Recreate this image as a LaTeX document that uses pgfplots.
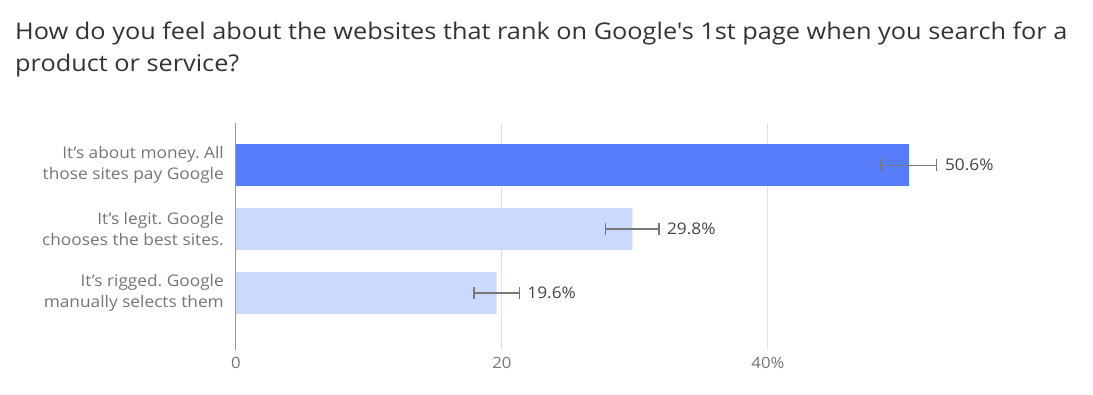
\documentclass[border=0pt]{standalone}
\usepackage{fontspec}
\setmainfont[FakeStretch=1.08]{Open Sans}
\newfontfamily\titlefont[FakeStretch=1.1]{Open Sans}
\usepackage{pgfplots}
\usepackage{pgfplotstable}
\pgfplotsset{compat=1.18}
\definecolor{darkbar}{RGB}{88,125,250}
\definecolor{lightbar}{RGB}{202,217,252}
\definecolor{txtgray}{RGB}{117,117,117}
\definecolor{titlegray}{RGB}{51,51,51}
\definecolor{valgray}{RGB}{68,68,68}
\definecolor{errgray}{RGB}{120,120,120}
\definecolor{gridgray}{RGB}{224,224,224}
\pgfplotstableread{
y val err
0 50.6 2.1
}\first
\pgfplotstableread{
y val err
1 29.8 2.0
2 19.6 1.7
}\rest
\pgfplotstableread{
y val err
0 50.6 2.1
1 29.8 2.0
2 19.6 1.7
}\all
\begin{document}
\frenchspacing
\begin{tikzpicture}
\path[use as bounding box] (0,0) rectangle (1093pt,394pt);
\node[anchor=base west, align=left, font=\titlefont\fontsize{23pt}{32pt}\selectfont, text=titlegray, inner sep=0pt] at (15pt,394pt-72pt)
{How do you feel about the websites that rank on Google's 1st page when you search for a\\product or service?};
\begin{axis}[
  at={(236pt,44pt)}, anchor=south west,
  scale only axis, width=758pt, height=227pt,
  xmin=0, xmax=57,
  ymin=-0.66, ymax=2.89, y dir=reverse,
  axis line style={draw=none},
  major tick length=0pt,
  xtick={20,40}, xticklabels={20,40\%},
  extra x ticks={0}, extra x tick labels={0},
  extra x tick style={grid=major, major grid style={draw=black!40, line width=1pt}},
  xmajorgrids, major grid style={draw=gridgray, line width=1pt},
  ytick={0,1,2},
  yticklabels={{It's about money. All\\those sites pay Google},{It's legit. Google\\chooses the best sites.},{It's rigged. Google\\manually selects them}},
  yticklabel style={align=right, font=\fontsize{16pt}{21pt}\selectfont, text=txtgray, inner sep=0pt, xshift=-12pt},
  xticklabel style={font=\fontsize{15.5pt}{18pt}\selectfont, text=txtgray, inner sep=0pt, yshift=-7pt},
  clip=false,
]
\addplot[xbar, bar width=42pt, bar shift=0pt, fill=darkbar, draw=none]
  table[x=val, y=y] {\first};
\addplot[xbar, bar width=42pt, bar shift=0pt, fill=lightbar, draw=none]
  table[x=val, y=y] {\rest};
\addplot[draw=none, mark=none,
  error bars/.cd, x dir=both, x explicit,
  error bar style={draw=errgray, line width=1.3pt},
  error mark options={draw=errgray, mark size=6pt, line width=1.3pt, rotate=90}]
  table[x=val, y=y, x error=err] {\all};
\addplot[draw=none, mark=none,
  nodes near coords={\pgfmathprintnumber[fixed,precision=1,fixed zerofill,assume math mode=true]{\pgfplotspointmeta}\%},
  point meta=\thisrow{val},
  every node near coord/.style={anchor=west, xshift=8pt, inner sep=0pt, font=\fontsize{16pt}{18pt}\selectfont, text=valgray}]
  table[x expr=\thisrow{val}+\thisrow{err}, y=y] {\all};
\end{axis}
\end{tikzpicture}
\end{document}
